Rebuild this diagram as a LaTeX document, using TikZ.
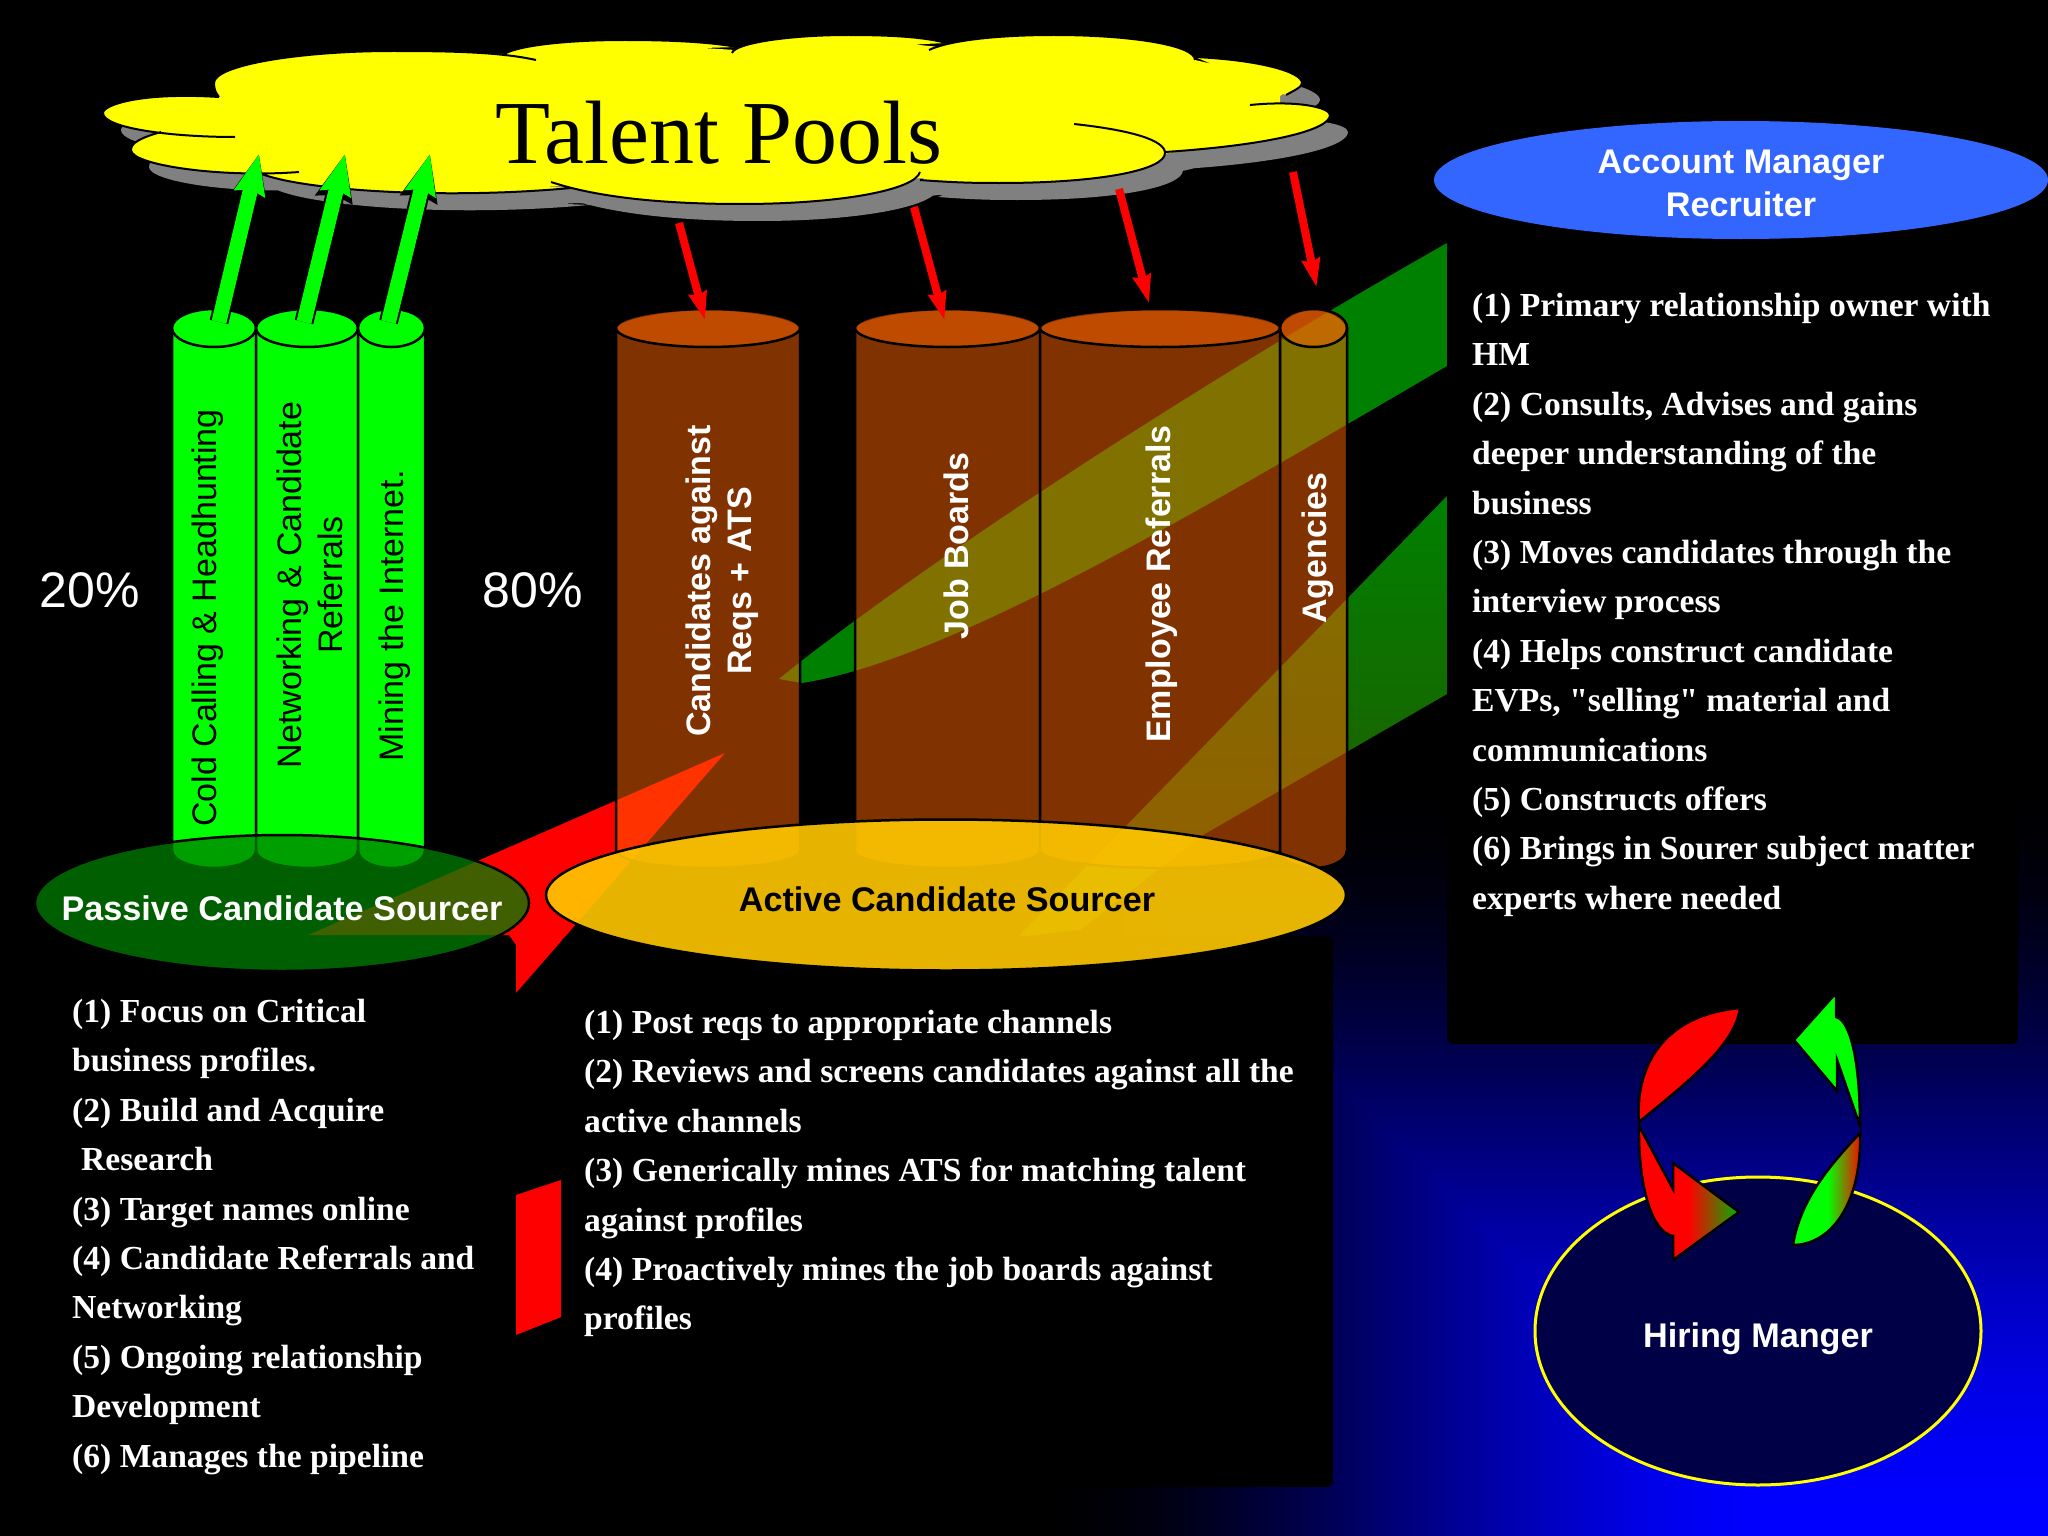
\documentclass[tikz,border=0pt]{standalone}
\usepackage{fontspec}
\setmainfont{Liberation Serif}[Ligatures=TeXOff]
\setsansfont{Liberation Sans}
\usetikzlibrary{arrows.meta, shapes.geometric}

\definecolor{cylbrown}{RGB}{255,100,0}
\definecolor{cloudgray}{RGB}{128,128,128}
\definecolor{cloudyellow}{RGB}{255,255,0}
\definecolor{leafgreen}{RGB}{0,128,0}
\definecolor{acctblue}{RGB}{51,102,255}
\definecolor{goldfill}{RGB}{255,200,0}
\definecolor{hiringfill}{RGB}{0,0,70}

\tikzset{
  brown cyl/.style={draw=black,line width=2.5pt,fill=cylbrown,fill opacity=0.5},
  green cyl/.style={draw=black,line width=2.5pt,fill=green},
  text black/.style={font=\sffamily\fontsize{34}{41}\selectfont,text=black,rotate=90,align=center},
  text white/.style={font=\sffamily\bfseries\fontsize{34}{41}\selectfont,text=white,rotate=90,align=center},
  role/.style={font=\sffamily\bfseries\fontsize{34.2}{43}\selectfont,align=center},
  duties/.style={font=\bfseries\fontsize{33.6}{49.4}\selectfont,text=white,align=left,
    anchor=north west,inner sep=0pt},
  percent/.style={font=\sffamily\fontsize{50}{60}\selectfont,text=white},
  pull arrow/.style={line width=15pt,green,-{Stealth[length=40pt,width=30pt,inset=4pt]},
    preaction={draw=black,line width=19pt,-{Stealth[length=46pt,width=36pt,inset=4pt]}}},
  push arrow/.style={line width=8pt,red,-{Stealth[length=28pt,width=18pt,inset=3pt]}},
  swirl/.style={draw=black,line width=2.5pt},
}

% lobes of the cloud, every one running the same way round
\def\cloudlobes{
  (219,97) .. controls (140,92) and (103,105) .. (103,113) .. controls (103,128) and (170,137) .. (235,137)
  (161,132) .. controls (140,138) and (131,143) .. (131,150) .. controls (131,165) and (220,178) .. (299,172)
  (259,173) .. controls (300,190) and (440,200) .. (571,188)
  (551,182) .. controls (590,195) and (650,204) .. (741,204) .. controls (840,204) and (915,190) .. (920,172)
  (920,180) .. controls (960,183) and (980,183) .. (1000,183) .. controls (1100,183) and (1165,170) .. (1165,153) .. controls (1165,140) and (1130,130) .. (1074,124)
  (1165,152) .. controls (1270,145) and (1330,130) .. (1330,115) .. controls (1330,108) and (1300,100) .. (1250,105)
  (1286,95) .. controls (1295,90) and (1302,87) .. (1302,83) .. controls (1302,72) and (1260,60) .. (1195,57)
  (1195,60) .. controls (1195,45) and (1130,35) .. (1054,35) .. controls (1000,35) and (950,40) .. (929,50)
  (946,43) .. controls (925,37) and (890,35) .. (848,35) .. controls (790,35) and (735,43) .. (732,53)
  (737,47) .. controls (710,42) and (670,40) .. (625,40) .. controls (570,40) and (520,45) .. (504,54)
  (536,60) .. controls (500,52) and (450,51) .. (393,51) .. controls (300,51) and (214,65) .. (214,83) .. controls (214,90) and (216,93) .. (219,97)
}
% the middle, from notch to lobe top and on to the next notch
\def\cloudcore{
  (219,100) -- (110,113) -- (165,136) -- (135,150) -- (262,172) -- (440,192) -- (560,186) -- (741,202)
  -- (920,178) -- (1000,181) -- (1160,155) -- (1320,118) -- (1280,108) -- (1280,96) -- (1298,84)
  -- (1195,60) -- (1054,38) -- (940,47) -- (848,38) -- (735,50) -- (625,43) -- (510,54) -- (393,54)
  -- (218,83) -- cycle
}

% name, left, right, look
\newcommand{\cyl}[4]{
  \pgfmathsetmacro{\cylmid}{(#2+#3)/2}
  \pgfmathsetmacro{\cylbit}{(#3-#2)*0.28}
  \draw[#4] (#2,328) .. controls (#2,318) and (#2+\cylbit,309) .. (\cylmid,309)
    .. controls (#3-\cylbit,309) and (#3,318) .. (#3,328) -- (#3,850)
    .. controls (#3,862) and (#3-\cylbit,868) .. (\cylmid,868)
    .. controls (#2+\cylbit,868) and (#2,862) .. (#2,850) -- cycle;
  \pgfmathsetmacro{\cylrad}{(#3-#2)/2}
  \draw[#4] (\cylmid,328) ellipse [x radius=\cylrad,y radius=19];
  \coordinate (#1) at (\cylmid,328);
}

\begin{document}
\begin{tikzpicture}[x=1pt,y=-1pt]
  \useasboundingbox (0,0) rectangle (2048,1536);
  \fill[black] (0,0) rectangle (2048,1536);

  % backdrop, bright towards the lower right
  \foreach \i in {1,...,128} {
    \pgfmathsetmacro{\bands}{(\i-1)/128}
    \pgfmathsetmacro{\bluepart}{100*(3*\bands*\bands-2*\bands*\bands*\bands)}
    \pgfmathsetmacro{\bandx}{1027+766*\bands}
    \pgfmathsetmacro{\bandy}{770+766*\bands}
    \fill[blue!\bluepart!black] (\bandx,\bandy) rectangle (2048,1536);
  }

  % bands behind the boxes and pillars
  \fill[leafgreen] (779,679) .. controls (850,620) and (1100,440) .. (1447,243)
    -- (1447,366) .. controls (1200,510) and (950,660) .. (802,683) -- cycle;
  \shade[top color=leafgreen,bottom color={rgb,255:red,40;green,85;blue,0}]
    (1447,496) -- (1126,826) -- (1018,937) -- (1080,930) -- (1203,835) -- (1447,694) -- cycle;
  \fill[red] (725,753) -- (308,935) -- (509,935) -- (516,945) -- (516,993) -- cycle;
  \fill[red] (516,1195) -- (561,1180) -- (561,1317) -- (516,1335) -- cycle;

  % boxes for the duties
  \fill[black,rounded corners=6pt] (1447,244) rectangle (2018,1044);
  \fill[black,rounded corners=6pt] (562,936) rectangle (1333,1487);

  % cloud
  \fill[cloudgray,xshift=18pt,yshift=-17pt] \cloudlobes \cloudcore;
  \fill[cloudyellow] \cloudlobes \cloudcore;
  \draw[black,line width=2pt] \cloudlobes;
  \node (pools) at (719,133) {\fontsize{90}{100}\selectfont Talent Pools};
  \coordinate (cold in) at (259,154);
  \coordinate (net in) at (345,154);
  \coordinate (mine in) at (430,154);
  \coordinate (out one) at (679,223);
  \coordinate (out two) at (914,207);
  \coordinate (out three) at (1119,189);
  \coordinate (out four) at (1293,172);

  % pillars
  \cyl{cold}{172}{256}{green cyl}
  \cyl{net}{256}{358}{green cyl}
  \cyl{mine}{358}{425}{green cyl}
  \cyl{ats}{616}{800}{brown cyl}
  \cyl{boards}{855}{1040}{brown cyl}
  \cyl{referrals}{1040}{1280}{brown cyl}
  \cyl{agencies}{1280}{1347}{brown cyl}

  \node[text black] (coldtext) at (208,618) {Cold Calling \& Headhunting};
  \node[text black] (nettext) at (310,585) {Networking \& Candidate\\Referrals};
  \node[text black] (minetext) at (395,616) {Mining the Internet.};
  \node[text white] (atstext) at (722,581) {Candidates against\\Reqs + ATS};
  \node[text white] (boardstext) at (956,546) {Job Boards};
  \node[text white] (reftext) at (1162,584) {Employee Referrals};
  \node[text white] (agtext) at (1318,548) {Agencies};

  \node[percent] (twenty) at (90,590) {20\%};
  \node[percent] (eighty) at (533,590) {80\%};

  % block arrows to and from the cloud
  \draw[pull arrow] ([xshift=5pt,yshift=6pt]cold) -- (cold in);
  \draw[pull arrow] ([xshift=-3pt,yshift=6pt]net) -- (net in);
  \draw[pull arrow] ([xshift=-3pt,yshift=6pt]mine) -- (mine in);
  \draw[push arrow] (out one) -- ([xshift=-3pt,yshift=8pt]ats);
  \draw[push arrow] (out two) -- ([xshift=-3pt,yshift=8pt]boards);
  \draw[push arrow] (out three) -- ([xshift=-11pt,yshift=25pt]referrals);
  \draw[push arrow] (out four) -- ([xshift=3pt,yshift=41pt]agencies);

  % the three people
  \node[ellipse,draw=black,line width=2.5pt,fill=leafgreen,fill opacity=0.75,
    minimum width=494pt,minimum height=136pt,inner sep=0pt] (passive) at (282,903) {};
  \node[role,text=white] (passivetext) at (282,908) {Passive Candidate Sourcer};
  \node[ellipse,draw=black,line width=2.5pt,fill=goldfill,fill opacity=0.9,
    minimum width=800pt,minimum height=151pt,inner sep=0pt] (active) at (946,895) {};
  \node[role,text=black] (activetext) at (947,899) {Active Candidate Sourcer};
  \node[ellipse,fill=acctblue,minimum width=614pt,minimum height=118pt,inner sep=0pt] (account) at (1741,180) {};
  \node[role,text=white] (accounttext) at (1741,183) {Account Manager\\Recruiter};
  \node[ellipse,draw=cloudyellow,line width=3pt,fill=hiringfill,minimum width=446pt,minimum height=308pt,
    inner sep=0pt] (hiring) at (1758,1331) {};
  \node[role,text=white] (hiringtext) at (1758,1339) {Hiring Manger};

  % exchange between manager and recruiter
  \fill[red,draw=black,line width=2.5pt] (1639,1122) .. controls (1635,1070) and (1660,1015) .. (1740,1008)
    .. controls (1735,1045) and (1690,1080) .. cycle;
  \draw[swirl,left color=red,right color=green!70!black,middle color=red]
    (1639,1126) .. controls (1638,1180) and (1650,1232) .. (1673,1236) -- (1673,1260) -- (1739,1212)
    -- (1673,1163) -- (1673,1189) -- cycle;
  \fill[green,draw=black,line width=2.5pt] (1794,1040) -- (1836,993) -- (1836,1017)
    .. controls (1850,1020) and (1860,1060) .. (1860,1126) -- (1837,1060) -- (1837,1091) -- cycle;
  \draw[swirl,left color=green,right color=red,middle color=green]
    (1860,1133) .. controls (1830,1165) and (1800,1200) .. (1793,1245)
    .. controls (1830,1245) and (1862,1205) .. cycle;

  % duties of each role
  \node[duties] (passivelist) at (72,999) {(1) Focus on Critical\\business profiles.\\(2) Build and Acquire\\\hspace*{9pt}Research\\(3) Target names online\\(4) Candidate Referrals and\\Networking\\(5) Ongoing relationship\\Development\\(6) Manages the pipeline};
  \node[duties] (activelist) at (584,1010) {(1) Post reqs to appropriate channels\\(2) Reviews and screens candidates against all the\\active channels\\(3) Generically mines ATS for matching talent\\against profiles\\(4) Proactively mines the job boards against\\profiles};
  \node[duties] (accountlist) at (1472,293) {(1) Primary relationship owner with\\HM\\(2) Consults, Advises and gains\\deeper understanding of the\\business\\(3) Moves candidates through the\\interview process\\(4) Helps construct candidate\\EVPs, "selling" material and\\communications\\(5) Constructs offers\\(6) Brings in Sourer subject matter\\experts where needed};
\end{tikzpicture}
\end{document}
